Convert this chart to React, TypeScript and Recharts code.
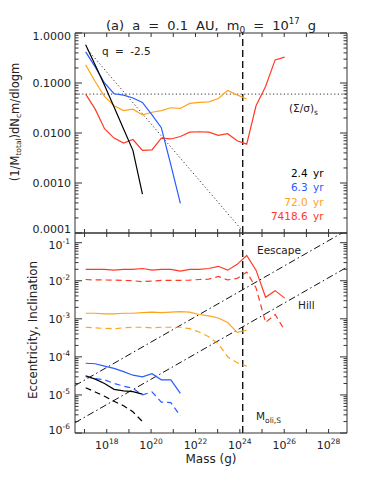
import React from 'react';
import { LineChart, Line, XAxis, YAxis } from 'recharts';

const W = 374;
const H = 498;
const FONT = "'DejaVu Sans', sans-serif";
const FRAME = '#333';
const TXT = '#222';
const COL = { black: '#000000', blue: '#2b5bff', orange: '#ffa31a', red: '#ff3a24' };

// log10 of the mass-bin centres (g)
const massExp = [17.05, 17.48, 17.90, 18.33, 18.76, 19.18, 19.61, 20.04, 20.46, 20.89, 21.32,
  21.74, 22.17, 22.60, 23.03, 23.45, 23.88, 24.31, 24.73, 25.16, 25.59, 26.02];

// top panel: (1/M_total) dN_c m / dlogm
const fracBlack = [0.58, 0.23, 0.090, 0.033, 0.012, 0.0045, 0.0006];
const fracBlue = [0.42, 0.21, 0.10, 0.061, 0.057, 0.050, 0.041, 0.023, 0.0128, 0.0023, 0.00039];
const fracOrange = [0.23, 0.107, 0.054, 0.035, 0.028, 0.030, 0.023, 0.026, 0.028, 0.032, 0.031,
  0.039, 0.041, 0.042, 0.049, 0.071, 0.058, 0.048];
const fracRed = [0.060, 0.030, 0.0122, 0.0079, 0.0063, 0.0074, 0.0045, 0.0046, 0.0079, 0.0076, 0.0085,
  0.0104, 0.0106, 0.0104, 0.0090, 0.0097, 0.0070, 0.0060, 0.035, 0.085, 0.29, 0.33];

// bottom panel: eccentricity (solid) and inclination (dashed)
const eccBlack = [3.2e-5, 2.6e-5, 2.0e-5, 1.4e-5, 1.28e-5, 1.22e-5, 1.05e-5];
const incBlack = [1.55e-5, 1.2e-5, 9.2e-6, 6.8e-6, 5.2e-6, 3.6e-6, 2.0e-6];
const eccBlue = [6.8e-5, 6.6e-5, 5.7e-5, 5.0e-5, 4.1e-5, 3.3e-5, 3.0e-5, 3.6e-5, 2.5e-5, 2.5e-5, 1.1e-5];
const incBlue = [3.0e-5, 2.7e-5, 2.5e-5, 2.0e-5, 1.7e-5, 1.5e-5, 1.0e-5, 1.2e-5, 6.5e-6, 6.3e-6, 2.8e-6];
const eccOrange = [1.4e-3, 1.4e-3, 1.35e-3, 1.35e-3, 1.4e-3, 1.4e-3, 1.45e-3, 1.5e-3, 1.45e-3, 1.5e-3,
  1.55e-3, 1.5e-3, 1.3e-3, 1.2e-3, 1.05e-3, 8.0e-4, 4.4e-4, 5.0e-4];
const incOrange = [6.0e-4, 5.8e-4, 5.6e-4, 5.5e-4, 5.8e-4, 6.0e-4, 6.0e-4, 5.8e-4, 6.0e-4, 6.0e-4,
  6.0e-4, 5.5e-4, 4.5e-4, 3.4e-4, 2.2e-4, 1.0e-4, 7.0e-5, 5.7e-5];
const eccRed = [0.020, 0.020, 0.020, 0.019, 0.020, 0.020, 0.021, 0.019, 0.020, 0.020, 0.018,
  0.020, 0.020, 0.021, 0.024, 0.019, 0.027, 0.046, 0.019, 0.0037, 0.0055, 0.0035];
const incRed = [0.0108, 0.0105, 0.0105, 0.0104, 0.0102, 0.0100, 0.0095, 0.0098, 0.0102, 0.0102, 0.0102,
  0.0104, 0.0108, 0.011, 0.013, 0.0105, 0.0115, 0.017, 0.0065, 0.0008, 0.0013, 0.0005];

// reference lines
const sigmaRatioS = 0.06;
const mOliS = 1.35e24;
const qLineMass = [1.4e17, 1.6e24];
const qLineFrac = [0.46, 1.0e-4];
const escapeMass = [3.7e16, 6.8e28];
const escapeVal = [1.76e-5, 0.215];
const hillMass = [3.7e16, 6.8e28];
const hillVal = [1.86e-6, 0.0228];

// axes
const massTickExp = [17, 18, 19, 20, 21, 22, 23, 24, 25, 26, 27, 28];
const massLabelExp = [18, 20, 22, 24, 26, 28];
const xDomain = [Math.pow(10, 16.57), Math.pow(10, 28.83)];
const fracDomain = [1e-4, 1];
const eiDomain = [1e-6, Math.pow(10, -0.745)];

const legendLabels = ['2.4 yr', '6.3 yr', '72.0 yr', '7418.6 yr'];
const legendColors = [COL.black, COL.blue, COL.orange, COL.red];

const series = (vals: number[]) => vals.map((v, i) => ({ m: Math.pow(10, massExp[i]), v }));
const pairs = (ms: number[], vs: number[]) => ms.map((m, i) => ({ m, v: vs[i] }));

const logTicks = (lo: number, hi: number) => {
  const out: number[] = [];
  for (let e = Math.floor(Math.log10(lo)); e <= Math.ceil(Math.log10(hi)); e++) {
    for (let k = 1; k <= 9; k++) {
      const v = k * Math.pow(10, e);
      if (v >= lo * 0.999 && v <= hi * 1.001) out.push(v);
    }
  }
  return out;
};
const isMajor = (v: number) => {
  const l = Math.log10(v);
  return Math.abs(l - Math.round(l)) < 1e-6;
};
const massTicks = massTickExp.map((e) => Math.pow(10, e));

const yTick = (p: any, side: 'left' | 'right', kind: 'frac' | 'ei' | 'none', dom: number[]) => {
  const { x, y, payload } = p;
  const v = payload.value;
  const major = isMajor(v);
  const len = major ? 7 : 3.5;
  const x2 = side === 'left' ? x + len : x - len;
  let label: any = null;
  if (side === 'left' && major && kind !== 'none') {
    let dy = 0;
    if (Math.abs(v - dom[1]) / dom[1] < 1e-3) dy = 3;
    if (Math.abs(v - dom[0]) / dom[0] < 1e-3) dy = kind === 'frac' ? -4 : -3;
    if (kind === 'frac') {
      label = (
        <text x={x - 4} y={y + dy + 4} textAnchor="end" fontSize={11} fill={TXT} fontFamily={FONT}>
          {v.toFixed(4)}
        </text>
      );
    } else {
      const top = v > 0.05;
      label = (
        <text x={x - 5} y={y + dy + (top ? 6 : 4)} textAnchor="end" fontSize={11} fill={TXT} fontFamily={FONT}>
          10<tspan dy={top ? -4.5 : -5} fontSize={7.5}>{String(Math.round(Math.log10(v)))}</tspan>
        </text>
      );
    }
  }
  return (
    <g>
      <line x1={x} x2={x2} y1={y} y2={y} stroke={FRAME} strokeWidth={1} />
      {label}
    </g>
  );
};

const xTick = (p: any, side: 'top' | 'bottom', labels: boolean) => {
  const { x, y, payload } = p;
  const v = payload.value;
  const e = Math.round(Math.log10(v));
  const len = 4;
  const y2 = side === 'bottom' ? y - len : y + len;
  return (
    <g>
      <line x1={x} x2={x} y1={y} y2={y2} stroke={FRAME} strokeWidth={1} />
      {labels && massLabelExp.includes(e) ? (
        <text x={x} y={y + 16} textAnchor="middle" fontSize={11} fill={TXT} fontFamily={FONT}>
          10<tspan dy={-5} fontSize={7.5}>{String(e)}</tspan>
        </text>
      ) : null}
    </g>
  );
};

const common = { type: 'linear' as const, dot: false, activeDot: false, isAnimationActive: false, dataKey: 'v' };

function Panel(props: {
  top: number; bottom: number; yDomain: number[]; kind: 'frac' | 'ei'; xLabels: boolean; children: any;
}) {
  const { top, bottom, yDomain, kind, xLabels, children } = props;
  const yt = logTicks(yDomain[0], yDomain[1]);
  return (
    <div style={{ position: 'absolute', left: 0, top: 0 }}>
      <LineChart width={W} height={H} margin={{ top: top - 1, right: 26, bottom: H - bottom - 1, left: 74 }}>
        <XAxis xAxisId="b" type="number" dataKey="m" scale="log" domain={xDomain} allowDataOverflow
          ticks={massTicks} interval={0} tickSize={0} tickMargin={0} height={1}
          axisLine={{ stroke: FRAME }} tickLine={false} tick={(p: any) => xTick(p, 'bottom', xLabels)} />
        <XAxis xAxisId="t" orientation="top" type="number" dataKey="m" scale="log" domain={xDomain} allowDataOverflow
          ticks={massTicks} interval={0} tickSize={0} tickMargin={0} height={1}
          axisLine={{ stroke: FRAME }} tickLine={false} tick={(p: any) => xTick(p, 'top', false)} />
        <YAxis yAxisId="l" type="number" scale="log" domain={yDomain} allowDataOverflow
          ticks={yt} interval={0} tickSize={0} tickMargin={0} width={1}
          axisLine={{ stroke: FRAME }} tickLine={false} tick={(p: any) => yTick(p, 'left', kind, yDomain)} />
        <YAxis yAxisId="r" orientation="right" type="number" scale="log" domain={yDomain} allowDataOverflow
          ticks={yt} interval={0} tickSize={0} tickMargin={0} width={1}
          axisLine={{ stroke: FRAME }} tickLine={false} tick={(p: any) => yTick(p, 'right', 'none', yDomain)} />
        <Line {...common} xAxisId="b" yAxisId="r" data={pairs([mOliS, mOliS], yDomain)}
          stroke="#000" strokeWidth={1.3} strokeDasharray="7 4" />
        {children}
      </LineChart>
    </div>
  );
}

export default function App() {
  return (
    <div style={{ position: 'absolute', left: 0, top: 0, width: W, height: H, background: '#fff', fontFamily: FONT }}>
      <Panel top={33} bottom={233} yDomain={fracDomain} kind="frac" xLabels={false}>
        <Line {...common} xAxisId="t" yAxisId="l" data={pairs(xDomain, [sigmaRatioS, sigmaRatioS])}
          stroke="#333" strokeWidth={1} strokeDasharray="1.2 2.4" />
        <Line {...common} xAxisId="b" yAxisId="l" data={pairs(qLineMass, qLineFrac)}
          stroke="#333" strokeWidth={1} strokeDasharray="1.2 2.4" />
        <Line {...common} xAxisId="b" yAxisId="l" data={series(fracRed)} stroke={COL.red} strokeWidth={1.2} />
        <Line {...common} xAxisId="b" yAxisId="l" data={series(fracOrange)} stroke={COL.orange} strokeWidth={1.2} />
        <Line {...common} xAxisId="b" yAxisId="l" data={series(fracBlue)} stroke={COL.blue} strokeWidth={1.2} />
        <Line {...common} xAxisId="b" yAxisId="l" data={series(fracBlack)} stroke={COL.black} strokeWidth={1.2} />
      </Panel>
      <Panel top={233} bottom={433} yDomain={eiDomain} kind="ei" xLabels={true}>
        <Line {...common} xAxisId="t" yAxisId="l" data={pairs(escapeMass, escapeVal)}
          stroke="#111" strokeWidth={1} strokeDasharray="7 3 1.5 3" />
        <Line {...common} xAxisId="b" yAxisId="l" data={pairs(hillMass, hillVal)}
          stroke="#111" strokeWidth={1} strokeDasharray="7 3 1.5 3" />
        <Line {...common} xAxisId="b" yAxisId="l" data={series(eccRed)} stroke={COL.red} strokeWidth={1.2} />
        <Line {...common} xAxisId="b" yAxisId="l" data={series(incRed)} stroke={COL.red} strokeWidth={1.2} strokeDasharray="6 4" />
        <Line {...common} xAxisId="b" yAxisId="l" data={series(eccOrange)} stroke={COL.orange} strokeWidth={1.2} />
        <Line {...common} xAxisId="b" yAxisId="l" data={series(incOrange)} stroke={COL.orange} strokeWidth={1.2} strokeDasharray="6 4" />
        <Line {...common} xAxisId="b" yAxisId="l" data={series(eccBlue)} stroke={COL.blue} strokeWidth={1.2} />
        <Line {...common} xAxisId="b" yAxisId="l" data={series(incBlue)} stroke={COL.blue} strokeWidth={1.2} strokeDasharray="6 4" />
        <Line {...common} xAxisId="b" yAxisId="l" data={series(eccBlack)} stroke={COL.black} strokeWidth={1.2} />
        <Line {...common} xAxisId="b" yAxisId="l" data={series(incBlack)} stroke={COL.black} strokeWidth={1.2} strokeDasharray="6 4" />
      </Panel>
      <svg width={W} height={H} style={{ position: 'absolute', left: 0, top: 0, pointerEvents: 'none' }}
        fontFamily={FONT} fill={TXT}>
        <text x={211} y={29.5} textAnchor="middle" fontSize={13} style={{ wordSpacing: '4px' }}>
          (a) a = 0.1 AU, m<tspan dy={3} fontSize={9}>0</tspan><tspan dy={-3}> = 10</tspan>
          <tspan dy={-6} fontSize={8.5}>17</tspan><tspan dy={6}> g</tspan>
        </text>
        <text x={15} y={122} textAnchor="middle" dominantBaseline="central" fontSize={11.5}
          transform="rotate(-90 15 122)">
          (1/M<tspan dy={3} fontSize={7.5}>total</tspan><tspan dy={-3}>)dN</tspan>
          <tspan dy={3} fontSize={7.5}>c</tspan><tspan dy={-3}>m/dlogm</tspan>
        </text>
        <text x={33} y={330} textAnchor="middle" dominantBaseline="central" fontSize={11.8}
          transform="rotate(-90 33 330)">
          Eccentricity, Inclination
        </text>
        <text x={211} y={463} textAnchor="middle" fontSize={12}>Mass (g)</text>
        <text x={102} y={55} fontSize={10.5} style={{ wordSpacing: '3px' }}>q = -2.5</text>
        <text x={289} y={112} fontSize={10.5}>
          (Σ/σ)<tspan dy={3} fontSize={7.5}>s</tspan>
        </text>
        {legendLabels.map((t, i) => (
          <text key={t} x={323.5} y={176.5 + i * 14.5} textAnchor="end" fontSize={10.5} fill={legendColors[i]}
            style={{ wordSpacing: '2px' }}>
            {t}
          </text>
        ))}
        <text x={257} y={254} fontSize={10.5}>Eescape</text>
        <text x={298} y={309} fontSize={10.5}>Hill</text>
        <text x={256} y={420} fontSize={10.5}>
          M<tspan dy={3} fontSize={7.5}>oli,S</tspan>
        </text>
      </svg>
    </div>
  );
}
